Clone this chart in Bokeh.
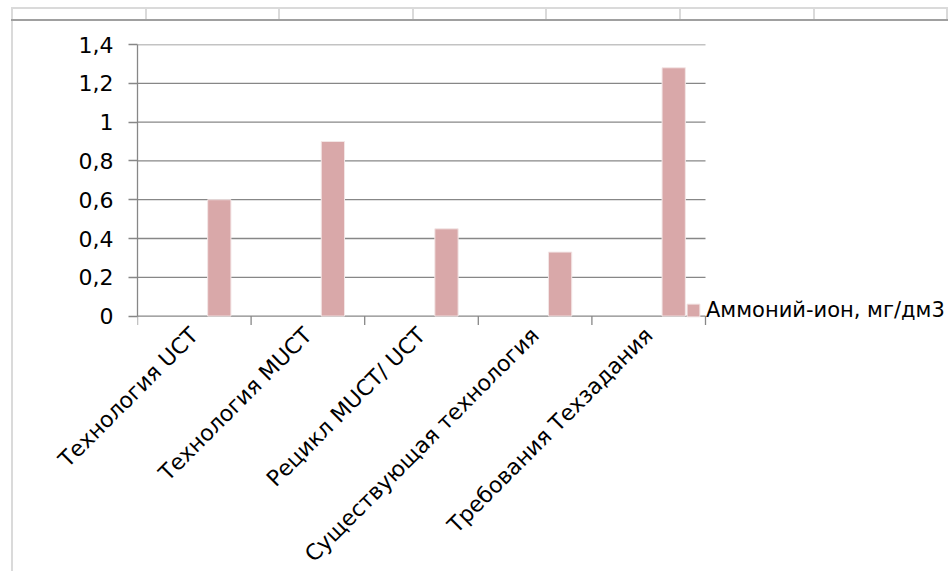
import math
from bokeh.plotting import figure
from bokeh.models import (Range1d, FixedTicker, CustomJSTickFormatter, Legend, LegendItem,
                          ColumnDataSource, Div)
from bokeh.layouts import column, row
from bokeh.transform import dodge
from bokeh.embed import file_html
from bokeh.resources import INLINE

# ---- data ----
categories = ["Технология UCT", "Технология MUCT", "Рецикл MUCT/ UCT",
              "Существующая технология", "Требования Техзадания"]
values = [0.60, 0.90, 0.45, 0.33, 1.28]
series_name = "Аммоний-ион, мг/дм3"
y_ticks = [0, 0.2, 0.4, 0.6, 0.8, 1.0, 1.2, 1.4]

FONT = "DejaVu Sans"
FS = "22px"
GRID = "#878787"
BAR = "#D9A8A9"
LIGHT = "#DADADA"

N = len(categories)
idx = list(range(N))
source = ColumnDataSource(dict(idx=idx, cat=categories, val=values))
grid_src = ColumnDataSource(dict(y=y_ticks, x0=[0] * len(y_ticks), x1=[N] * len(y_ticks)))

# plot area: categories occupy 568 px; the frame continues to the right edge and a bit
# below the zero line so that the legend beside the last bar is not clipped
CAT_W = 568
FRAME_W = 815
Y_MAX = 1.4
Y_PAD = 0.1
VALUE_H = 272
TICK_PX = 9
frame_h = round(VALUE_H * (Y_MAX + Y_PAD) / Y_MAX)
pad_px = frame_h * Y_PAD / (Y_MAX + Y_PAD)
tick_len = TICK_PX * Y_MAX / VALUE_H

p = figure(frame_width=FRAME_W, frame_height=frame_h,
           x_range=Range1d(0, N * FRAME_W / CAT_W), y_range=Range1d(-Y_PAD, Y_MAX),
           min_border_left=124, min_border_right=0, min_border_top=23, min_border_bottom=236,
           output_backend="svg", toolbar_location=None, margin=0)
p.outline_line_color = None
p.background_fill_color = "white"
p.border_fill_color = "white"
p.xgrid.grid_line_color = None
p.ygrid.grid_line_color = None

# horizontal gridlines (the one at 0 is the category axis line)
p.segment(x0="x0", x1="x1", y0="y", y1="y", source=grid_src, line_color=GRID, line_width=1.3)
# category boundary tick marks below the zero line
bounds_src = ColumnDataSource(dict(x=list(range(N + 1)), y0=[0] * (N + 1), y1=[-tick_len] * (N + 1)))
p.segment(x0="x", x1="x", y0="y0", y1="y1", source=bounds_src, line_color=GRID, line_width=1.3)

r = p.vbar(x=dodge("idx", 0.72), top="val", width=0.205, bottom=0, source=source,
           fill_color=BAR, line_color="#F3E6E6", line_width=1)

# y axis
yax = p.yaxis[0]
yax.bounds = (0, Y_MAX)
yax.ticker = FixedTicker(ticks=y_ticks)
yax.formatter = CustomJSTickFormatter(code="return (Math.round(tick*10)/10).toString().replace('.', ',');")
yax.axis_line_color = GRID
yax.axis_line_width = 1.3
yax.major_tick_line_color = GRID
yax.major_tick_line_width = 1.3
yax.major_tick_out = TICK_PX
yax.major_tick_in = 0
yax.minor_tick_line_color = None
yax.major_label_standoff = 15
yax.major_label_text_font = FONT
yax.major_label_text_font_size = FS
yax.major_label_text_color = "#000000"

# x axis: only the rotated category labels (line and ticks drawn at value 0 above)
xax = p.xaxis[0]
xax.ticker = FixedTicker(ticks=[i + 0.5 for i in idx])
xax.formatter = CustomJSTickFormatter(args=dict(cats=categories),
                                      code="return cats[Math.floor(tick)];")
xax.major_label_orientation = math.pi / 4
xax.axis_line_color = None
xax.major_tick_line_color = None
xax.minor_tick_line_color = None
xax.major_tick_out = 0
xax.major_tick_in = 0
xax.minor_tick_out = 0
xax.minor_tick_in = 0
xax.major_label_standoff = round(15 - pad_px)
xax.major_label_text_font = FONT
xax.major_label_text_font_size = FS
xax.major_label_text_color = "#000000"

legend = Legend(items=[LegendItem(label=series_name, renderers=[r])],
                location=(548, 13), orientation="vertical",
                glyph_width=16, glyph_height=16, label_standoff=5,
                padding=0, margin=0, spacing=0,
                border_line_color=None, background_fill_alpha=0,
                label_text_font=FONT, label_text_font_size="21px",
                label_text_color="#000000", label_height=16)
p.add_layout(legend, "center")

# page decorations: document table row on top, chart frame border on the left
parts = ['<div style="position:relative;width:952px;height:21px;overflow:hidden;">',
         f'<div style="position:absolute;left:11px;top:7px;width:936px;height:2px;background:{LIGHT};"></div>']
for k in range(8):
    xk = 11 + round(k * 133.6)
    parts.append(f'<div style="position:absolute;left:{xk}px;top:7px;width:2px;height:13px;background:{LIGHT};"></div>')
parts.append('<div style="position:absolute;left:11px;top:19px;width:937px;height:2px;background:#A0A0A0;"></div>')
parts.append('</div>')
top_div = Div(text="".join(parts), width=952, height=21, margin=0)
left_div = Div(text=f'<div style="margin-left:11px;width:2px;height:560px;background:{LIGHT};"></div>',
               width=13, height=550, margin=0)

layout = column(top_div, row(left_div, p, spacing=0, margin=0), spacing=0, margin=0)

open("out.html", "w").write(file_html(layout, INLINE))
